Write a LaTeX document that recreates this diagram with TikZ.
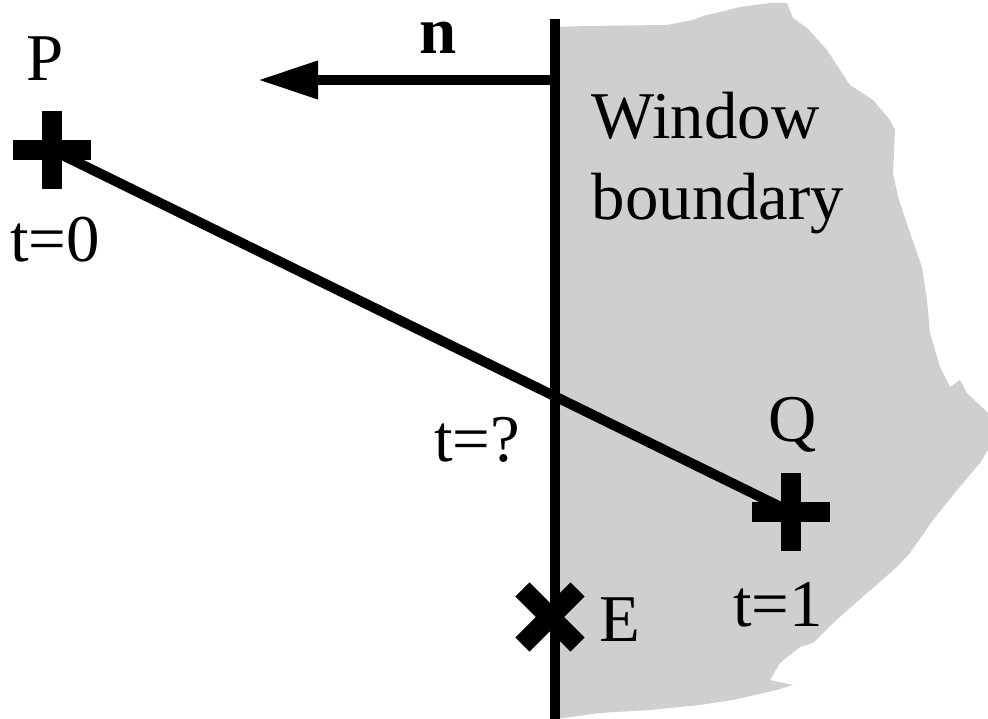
\documentclass[tikz,border=0pt]{standalone}
\usepackage{fontspec}
\setmainfont{Liberation Serif}
\usepackage{tikz}
\usetikzlibrary{arrows.meta}
\definecolor{winfill}{gray}{0.81}
\tikzset{
  thick line/.style={line width=0.1cm},
  markline/.style={line width=0.2cm},
  lbl/.style={font=\fontsize{19}{23}\selectfont, inner sep=0pt}
}
\newcommand{\crossmark}[2][0]{%
  \begin{scope}[shift={(#2)},rotate=#1]
    \draw[markline] (-39,0) -- (39,0);
    \draw[markline] (0,-39) -- (0,39);
  \end{scope}}

\begin{document}
\begin{tikzpicture}[x=0.01cm,y=-0.01cm]
  \useasboundingbox (0,0) rectangle (988,719);
  \fill[winfill] (556,27) -- (587,26) -- (667,25) -- (693,20) -- (703,16) -- (740,7)
    -- (770,3) -- (787,3) -- (793,18) -- (807,28) -- (827,50) -- (850,85) -- (873,100)
    -- (890,120) -- (895,130) -- (893,173) -- (898,197) -- (910,233) -- (922,267)
    -- (927,300) -- (930,333) -- (940,367) -- (950,387) -- (960,380) -- (967,393)
    -- (988,413) -- (988,450) -- (980,463) -- (957,490) -- (933,520) -- (910,553)
    -- (897,567) -- (867,593) -- (833,623) -- (813,643) -- (800,647) -- (780,663)
    -- (770,680) -- (793,685) -- (777,690) -- (733,700) -- (700,705) -- (650,710)
    -- (600,713) -- (556,719) -- cycle;
  \coordinate (top) at (555,19);
  \coordinate (bottom) at (555,719);
  \coordinate (P) at (52,150);
  \coordinate (Q) at (791,512);
  \coordinate (E) at (550,617);
  \coordinate (nfoot) at (555,80);
  \coordinate (ntip) at (258,80);
  \draw[thick line] (top) -- (bottom);
  \draw[thick line] (P) -- (Q);
  \draw[thick line,-{Triangle[length=0.6cm,width=0.36cm]}] (nfoot) -- (ntip);
  \crossmark{P}
  \crossmark{Q}
  \crossmark[45]{E}
  \node[lbl] (nlabel) at (438,38) {\textbf{n}};
  \node[lbl] (Plabel) at (45,59) {P};
  \node[lbl] (t0) at (55,240) {t=0};
  \node[lbl] (tq) at (477,440) {t=?};
  \node[lbl] (Qlabel) at (793,425) {Q};
  \node[lbl] (t1) at (778,605) {t=1};
  \node[lbl] (Elabel) at (620,620) {E};
  \node[lbl,align=left] (window) at (718,163) {Window\\boundary};
\end{tikzpicture}
\end{document}
